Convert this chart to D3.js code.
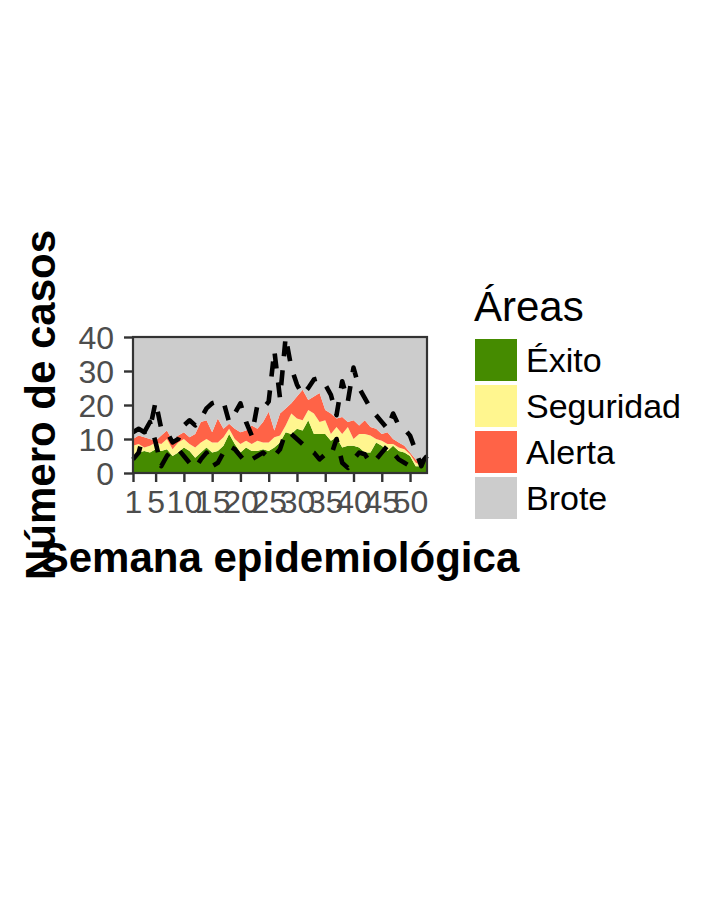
<!DOCTYPE html>
<html>
<head>
<meta charset="utf-8">
<script src="https://cdn.jsdelivr.net/npm/d3@7/dist/d3.min.js"></script>
<style>
  html, body { margin: 0; padding: 0; background: #ffffff; }
  svg { display: block; font-family: "Liberation Sans", Arial, Helvetica, sans-serif; }
</style>
</head>
<body>
<svg id="chart" width="720" height="921"></svg>
<script>
// ---- Data ----
const weeks = [1,2,3,4,5,6,7,8,9,10,11,12,13,14,15,16,17,18,19,20,21,22,23,24,25,26,27,28,29,30,31,32,33,34,35,36,37,38,39,40,41,42,43,44,45,46,47,48,49,50,51,52,53];

// upper limits of each zone of the endemic channel
const limiteExito = [5,6,6.5,6,7,6.5,7,5,6,7.5,6.5,4.5,6,7.5,6,6.5,8,11.5,8.5,6,7.5,6.5,6.5,7,6.5,7.5,9,12,11.5,13,12.5,15.5,11.5,11.5,11.5,9.5,10.5,7.5,8,8,7.5,6,6,9,8,6.5,8,6.5,6,5,2,2,4];
const limiteSeguridad = [8,8.5,7.5,8,9,8.5,10,7,9,10,8.5,7.5,9,10,9,9,10.5,13,10,8.5,9.5,8.5,9.5,9,9,10.5,11,14,17.5,16,15.5,18.5,17.5,15,15.5,11.5,13.5,11.5,13.5,10,11.5,11.5,11,10,9.5,8.5,8.5,7.5,7,5.5,3,2.2,5.5];
const limiteAlerta = [10,11,10.5,10,9.5,11,12.5,9.5,11,12,10.5,11.5,15,15.5,12,16,13,14.5,13,12,12.5,14,13,15,18,12.5,17.5,19,20.5,22.5,24.5,21.5,22.5,23.5,18.5,17.5,16,16.5,15,15.5,14,15.5,13.5,13,11.5,12,10,9,8,6,4,2.5,6];
const limiteBrote = 40;

// two dashed case series
const casosA = [12,13,12,13,21,13,12,9,10,14,15.5,14,16,19,20.5,21,21,15,17.5,20.5,15,11,20,19,21,36,22,40,31,26,23,25,27.5,28,26,23,17,27,21,31,25,22,19,17,15,13,17.5,14,13,11,6.5,2,6];
const casosB = [4,6,12,15,9,2,5,7,7,5,3,1.5,4,6,2,3,6,8,7,5,3,4,5,6,4.5,5,7,12,11.5,10,8.5,7,6,4,5.5,5,10,3,1.5,4,6,5.5,3,4,6,8,6,4,3,2,2,3,5];

const xTicks = [1,5,10,15,20,25,30,35,40,45,50];
const yTicks = [0,10,20,30,40];

const areaNames = ["Éxito","Seguridad","Alerta","Brote"];
const areaColors = ["#458B00","#FFF68F","#FF6347","#CCCCCC"];

const xTitle = "Semana epidemiológica";
const yTitle = "Número de casos";
const legendTitle = "Áreas";

// ---- Layout ----
const svg = d3.select("#chart");
const panel = {left: 133, right: 427, top: 337, bottom: 473};

const x = d3.scaleLinear().domain([1, 53]).range([panel.left, panel.right]);
const y = d3.scaleLinear().domain([0, 40]).range([panel.bottom, panel.top]);

const rows = weeks.map((w, i) => ({
  w,
  bands: [0, limiteExito[i], limiteSeguridad[i], limiteAlerta[i], limiteBrote]
}));

const g = svg.append("g");

// stacked zones
for (let k = 0; k < 4; k++) {
  const area = d3.area()
    .x(d => x(d.w))
    .y0(d => y(d.bands[k]))
    .y1(d => y(d.bands[k + 1]));
  g.append("path")
    .datum(rows)
    .attr("d", area)
    .attr("fill", areaColors[k])
    .attr("stroke", "none");
}

// dashed case lines
const line = d3.line().x((d, i) => x(weeks[i])).y(d => y(d));
[casosA, casosB].forEach(s => {
  g.append("path")
    .datum(s)
    .attr("d", line)
    .attr("fill", "none")
    .attr("stroke", "#000")
    .attr("stroke-width", 4.6)
    .attr("stroke-dasharray", "15,14")
    .attr("stroke-linejoin", "round");
});

// panel border
g.append("rect")
  .attr("x", panel.left).attr("y", panel.top)
  .attr("width", panel.right - panel.left)
  .attr("height", panel.bottom - panel.top)
  .attr("fill", "none")
  .attr("stroke", "#333333")
  .attr("stroke-width", 2.2);

// axes
const xAxis = d3.axisBottom(x).tickValues(xTicks).tickSize(9).tickPadding(8).tickFormat(d3.format("d"));
const yAxis = d3.axisLeft(y).tickValues(yTicks).tickSize(9).tickPadding(10).tickFormat(d3.format("d"));

const gx = svg.append("g").attr("transform", `translate(0,${panel.bottom})`).call(xAxis);
const gy = svg.append("g").attr("transform", `translate(${panel.left},0)`).call(yAxis);

[gx, gy].forEach(ax => {
  ax.select(".domain").remove();
  ax.selectAll(".tick line").attr("stroke", "#333333").attr("stroke-width", 2.4);
  ax.selectAll(".tick text")
    .attr("fill", "#4D4D4D")
    .style("font-size", "32px")
    .style("font-family", "'Liberation Sans', Arial, sans-serif");
});
gx.selectAll(".tick text").attr("dy", "0.71em");
gy.selectAll(".tick text").attr("dy", "0.36em");

// axis titles
svg.append("text")
  .attr("x", (panel.left + panel.right) / 2)
  .attr("y", 572)
  .attr("text-anchor", "middle")
  .style("font-size", "42px")
  .style("font-weight", "bold")
  .attr("fill", "#000")
  .text(xTitle);

svg.append("text")
  .attr("transform", `translate(55,${(panel.top + panel.bottom) / 2}) rotate(-90)`)
  .attr("text-anchor", "middle")
  .style("font-size", "42px")
  .style("font-weight", "bold")
  .attr("fill", "#000")
  .text(yTitle);

// legend
const lg = svg.append("g");
lg.append("text")
  .attr("x", 474).attr("y", 321)
  .style("font-size", "42px")
  .attr("fill", "#000")
  .text(legendTitle);

areaNames.forEach((name, i) => {
  const top = 339 + i * 46;
  lg.append("rect")
    .attr("x", 475).attr("y", top)
    .attr("width", 42).attr("height", 42)
    .attr("fill", areaColors[i]);
  lg.append("text")
    .attr("x", 526).attr("y", top + 21)
    .attr("dy", "0.36em")
    .style("font-size", "34px")
    .attr("fill", "#000")
    .text(name);
});
</script>
</body>
</html>
